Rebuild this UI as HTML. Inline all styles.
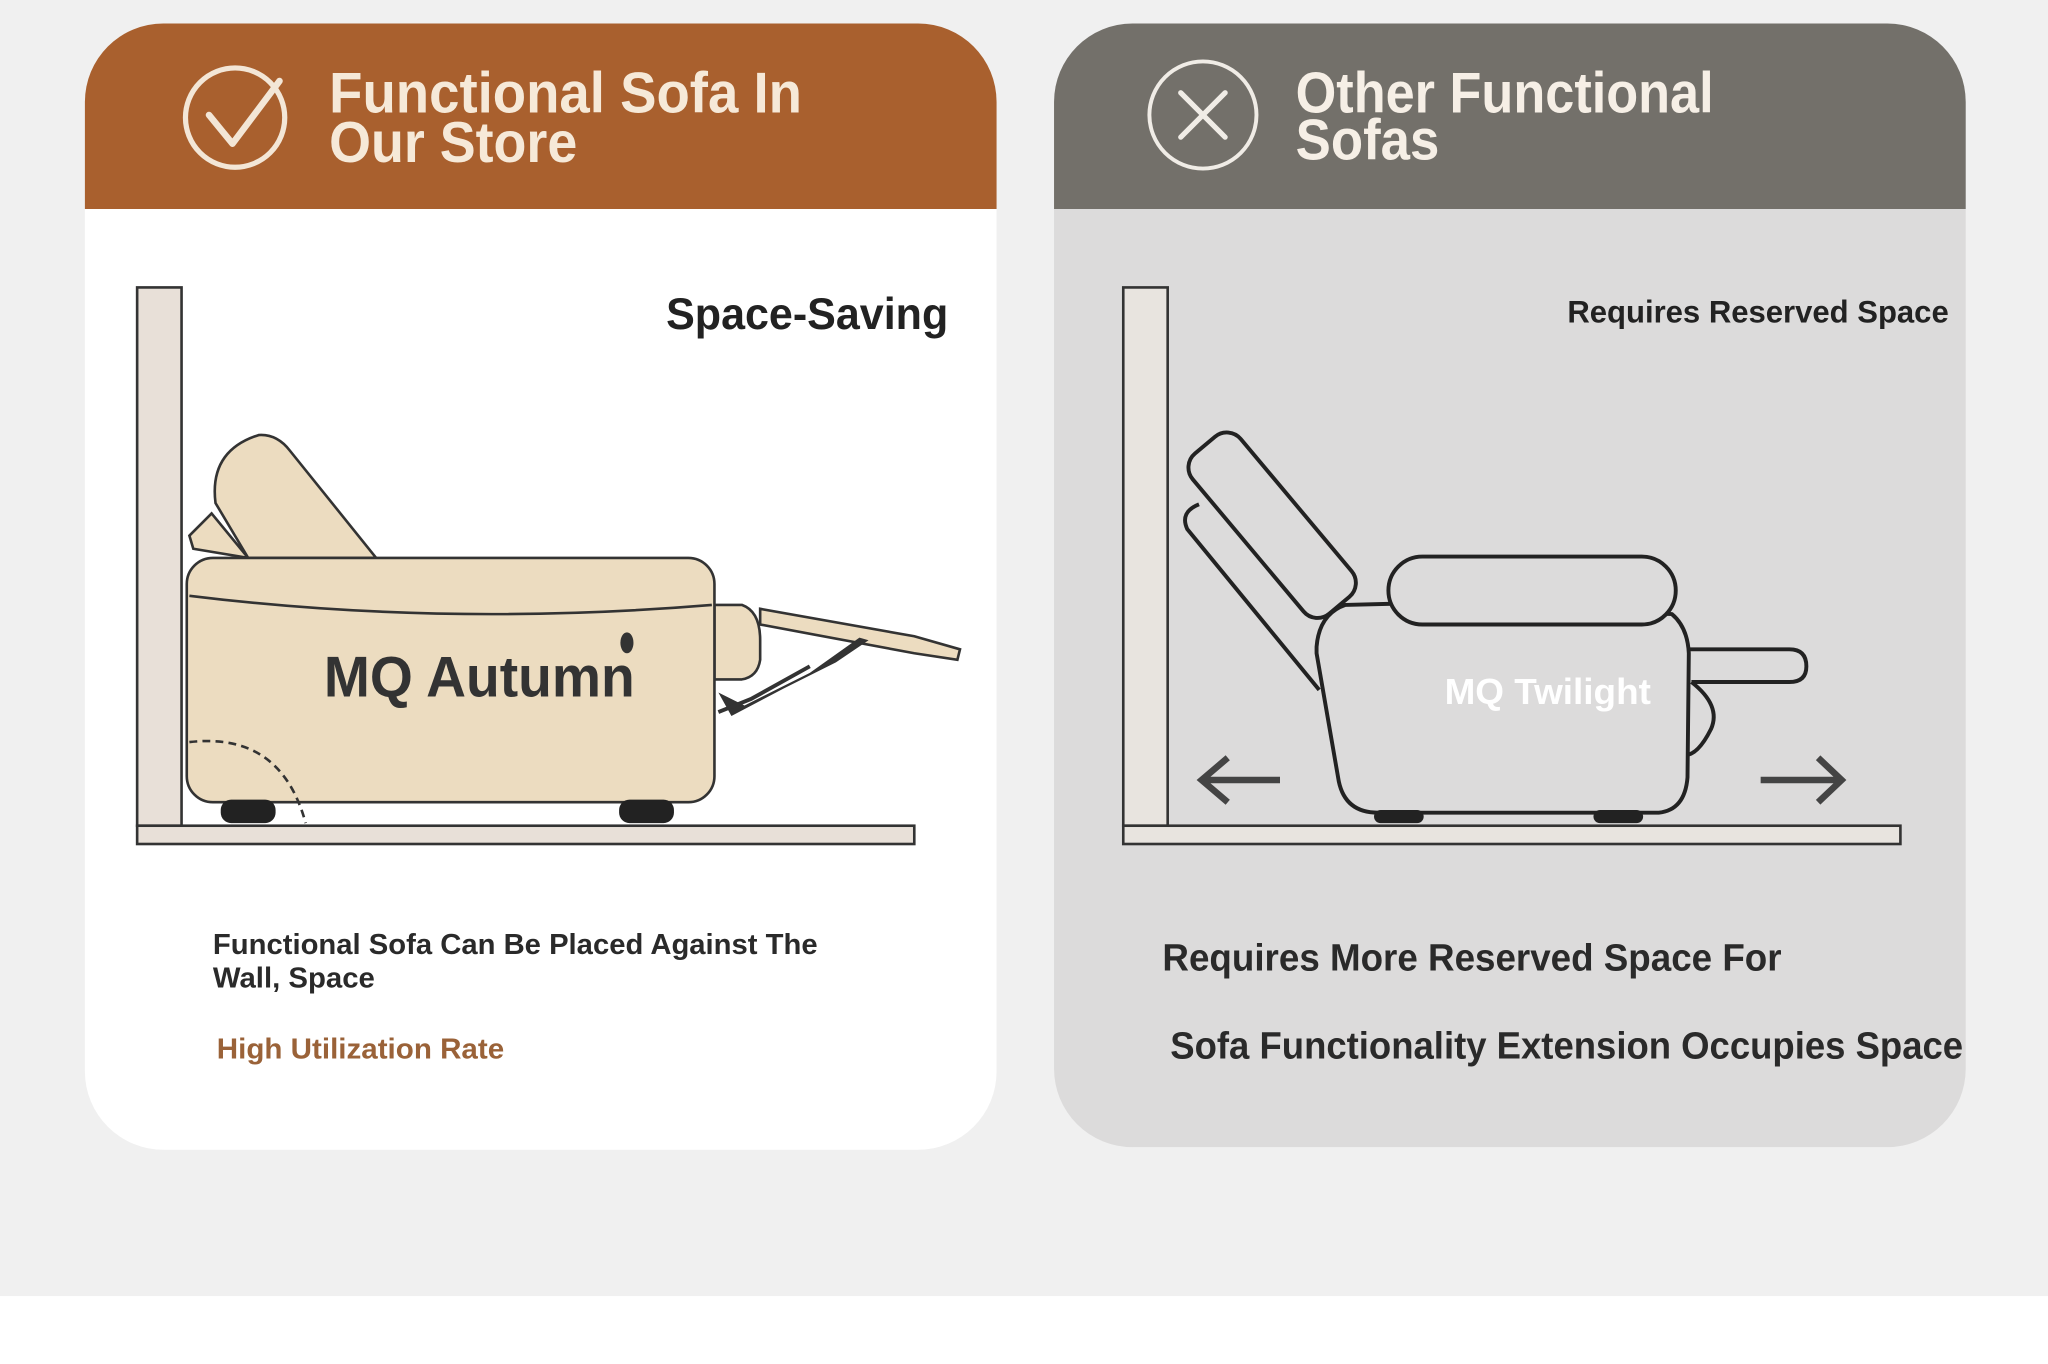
<!DOCTYPE html>
<html><head><meta charset="utf-8"><style>
html,body{margin:0;padding:0;background:#f0f0f0;}
svg{display:block;}
text{font-family:"Liberation Sans",sans-serif;font-weight:bold;}
</style></head><body>
<svg width="2048" height="1364" viewBox="0 0 1568 1044" preserveAspectRatio="none" xmlns="http://www.w3.org/2000/svg">
<rect x="0" y="0" width="1568" height="992" fill="#f0f0f0"/>
<rect x="0" y="992" width="1568" height="52" fill="#ffffff"/>
<!-- left card -->
<path d="M65,160 V78 A60,60 0 0 1 125,18 H703 A60,60 0 0 1 763,78 V160 Z" fill="#a9602e"/>
<path d="M65,160 H763 V820 A60,60 0 0 1 703,880 H125 A60,60 0 0 1 65,820 Z" fill="#ffffff"/>
<circle cx="180" cy="90" r="38" fill="none" stroke="#f3e6d6" stroke-width="4"/>
<path d="M160,88 L178,110 L214,62" fill="none" stroke="#f3e6d6" stroke-width="5" stroke-linecap="round" stroke-linejoin="round"/>
<text x="252" y="86" font-size="44" fill="#f6e9d8" textLength="362" lengthAdjust="spacingAndGlyphs">Functional Sofa In</text>
<text x="252" y="124" font-size="44" fill="#f6e9d8" textLength="190" lengthAdjust="spacingAndGlyphs">Our Store</text>
<text x="510" y="252" font-size="34" fill="#222" textLength="216" lengthAdjust="spacingAndGlyphs">Space-Saving</text>
<!-- left drawing -->
<rect x="105" y="220" width="34" height="412" fill="#e8e0d8" stroke="#333" stroke-width="2"/>
<rect x="105" y="632" width="595" height="14" fill="#e8e0d8" stroke="#333" stroke-width="2"/>
<path d="M148,420 L145,410 L162,393 L190,427 Z" fill="#ecdcc0" stroke="#333" stroke-width="2"/>
<path d="M190,427 L165,385 Q160,345 198,333 Q212,332 222,345 L288,427 Z" fill="#ecdcc0" stroke="#333" stroke-width="2"/>
<path d="M547,463 H568 Q582,468 582,490 V505 Q580,518 568,520 H547 Z" fill="#ecdcc0" stroke="#333" stroke-width="2"/>
<path d="M582,466 L700,487 L735,497 L733,505 L700,500 L582,478 Z" fill="#ecdcc0" stroke="#333" stroke-width="2"/>
<path d="M550,530 L560,548 L600,527 L640,507 L665,490 L658,488 L620,515 L570,540 Z" fill="#333"/>
<path d="M550,545 L575,535 L620,510" fill="none" stroke="#333" stroke-width="3"/>
<rect x="143" y="427" width="404" height="187" rx="20" fill="#ecdcc0" stroke="#333" stroke-width="2"/>
<path d="M145,456 Q340,480 545,463" fill="none" stroke="#333" stroke-width="2"/>
<rect x="169" y="612" width="42" height="18" rx="8" fill="#222"/>
<rect x="474" y="612" width="42" height="18" rx="8" fill="#222"/>
<path d="M145,568 Q215,560 234,630" fill="none" stroke="#333" stroke-width="2" stroke-dasharray="6,4"/>
<ellipse cx="480" cy="492" rx="5" ry="8" fill="#333"/>
<text x="248" y="533" font-size="44" fill="#333" textLength="238" lengthAdjust="spacingAndGlyphs">MQ Autumn</text>
<text x="163" y="730" font-size="22" fill="#2a2a2a" textLength="463" lengthAdjust="spacingAndGlyphs">Functional Sofa Can Be Placed Against The</text>
<text x="163" y="756" font-size="22" fill="#2a2a2a" textLength="124" lengthAdjust="spacingAndGlyphs">Wall, Space</text>
<text x="166" y="810" font-size="22" fill="#9a6238" textLength="220" lengthAdjust="spacingAndGlyphs">High Utilization Rate</text>
<!-- right card -->
<path d="M807,160 V78 A60,60 0 0 1 867,18 H1445 A60,60 0 0 1 1505,78 V160 Z" fill="#73706a"/>
<path d="M807,160 H1505 V818 A60,60 0 0 1 1445,878 H867 A60,60 0 0 1 807,818 Z" fill="#dcdbdb"/>
<circle cx="921" cy="88" r="41" fill="none" stroke="#f0ece6" stroke-width="3"/>
<path d="M904,71 L938,105 M938,71 L904,105" stroke="#f0ece6" stroke-width="4" stroke-linecap="round"/>
<text x="992" y="86" font-size="44" fill="#f6efe6" textLength="320" lengthAdjust="spacingAndGlyphs">Other Functional</text>
<text x="992" y="122" font-size="44" fill="#f6efe6" textLength="110" lengthAdjust="spacingAndGlyphs">Sofas</text>
<text x="1200" y="247" font-size="24" fill="#222" textLength="292" lengthAdjust="spacingAndGlyphs">Requires Reserved Space</text>
<rect x="860" y="220" width="34" height="412" fill="#e8e4df" stroke="#333" stroke-width="2"/>
<rect x="860" y="632" width="595" height="14" fill="#e8e4df" stroke="#333" stroke-width="2"/>
<g fill="none" stroke="#222" stroke-width="3" stroke-linejoin="round">
<path d="M918,386 Q903,392 909,405 L1010,528"/>
<path d="M1018,455 L1030,470"/>
<path d="M1290,497 H1370 Q1383,497 1383,510 Q1383,522 1370,522 H1295"/>
<path d="M1295,522 Q1318,540 1310,558 Q1300,578 1290,578"/>
<path d="M1008,495 Q1010,470 1030,463 L1070,462 L1280,470 Q1292,480 1293,500 L1292,595 Q1290,620 1270,622 H1055 Q1030,622 1025,598 L1008,500 Z" fill="#dcdbdb"/>
<rect x="1063" y="426" width="220" height="52" rx="26" fill="#dcdbdb"/>
<rect x="950" y="322" width="48" height="160" rx="14" transform="rotate(-40 974 402)" fill="#dcdbdb"/>
</g>
<rect x="1052" y="620" width="38" height="10" rx="5" fill="#222"/>
<rect x="1220" y="620" width="38" height="10" rx="5" fill="#222"/>
<g stroke="#444" stroke-width="5" fill="none" stroke-linecap="butt">
<path d="M980,597 H920 M940,580 L920,597 L940,614"/>
<path d="M1348,597 H1410 M1392,580 L1410,597 L1392,614"/>
</g>
<text x="1106" y="539" font-size="28" fill="#ffffff" textLength="158" lengthAdjust="spacingAndGlyphs">MQ Twilight</text>
<text x="890" y="743" font-size="29" fill="#2a2a2a" textLength="474" lengthAdjust="spacingAndGlyphs">Requires More Reserved Space For</text>
<text x="896" y="810" font-size="29" fill="#2a2a2a" textLength="607" lengthAdjust="spacingAndGlyphs">Sofa Functionality Extension Occupies Space</text>
</svg>
</body></html>
